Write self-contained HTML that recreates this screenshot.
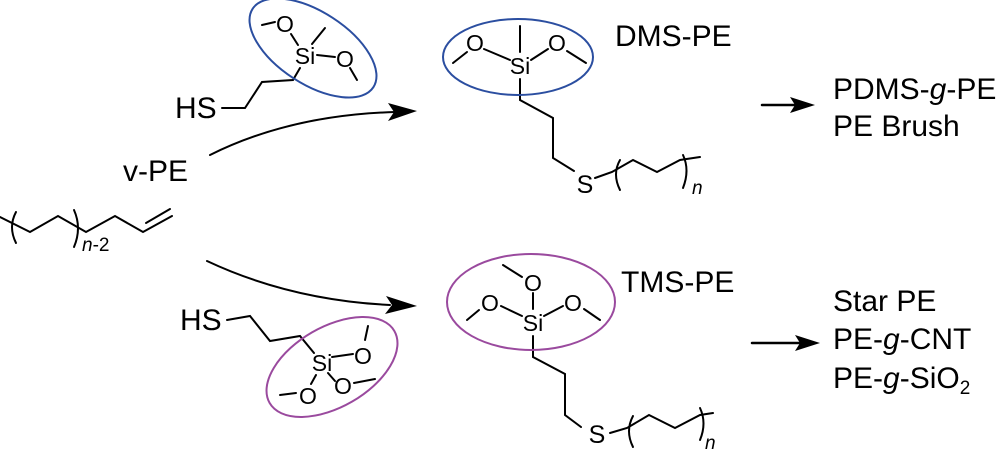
<!DOCTYPE html>
<html><head><style>
html,body{margin:0;padding:0;background:#fff;}
svg{display:block;}
text{font-family:"Liberation Sans",Arial,sans-serif;fill:#000;}
</style></head><body>
<svg width="1000" height="451" viewBox="0 0 1000 451" xmlns="http://www.w3.org/2000/svg">
<g stroke="#000" stroke-width="2" fill="none" stroke-linecap="round">
<polyline points="0,217 30,232 58,216 86,232 115,216 143,232 172,216"/>
<line x1="146" y1="223" x2="170" y2="209"/>
<path d="M16,212 Q8,227 16,243"/>
<path d="M74,210 Q82,228 74,247"/>
<polyline points="222,108 245,108 262,82 293,80 300,68"/>
<line x1="262" y1="25" x2="275" y2="22"/>
<line x1="291" y1="34" x2="298" y2="45"/>
<line x1="317" y1="55" x2="335" y2="57"/>
<line x1="350" y1="68" x2="357" y2="80"/>
<line x1="312" y1="44" x2="325" y2="28"/>
<path d="M210,155 Q290,115 395,112"/>
<line x1="520" y1="26" x2="520" y2="52"/>
<line x1="484" y1="49" x2="510" y2="60"/>
<line x1="531" y1="60" x2="548" y2="49"/>
<line x1="453" y1="63" x2="467" y2="52"/>
<line x1="567" y1="51" x2="586" y2="63"/>
<polyline points="520,79 520,100 553,118 553,158 574,171"/>
<polyline points="595,178 612,172 633,160 657,172 680,160 700,157"/>
<path d="M620,160 Q612,174 620,190"/>
<path d="M683,155 Q690,170 683,188"/>
<polyline points="227,320 250,316 270,341 300,336 314,353"/>
<line x1="332" y1="357" x2="353" y2="354"/>
<line x1="365" y1="340" x2="368" y2="326"/>
<line x1="328" y1="373" x2="335" y2="381"/>
<line x1="354" y1="383" x2="375" y2="379"/>
<line x1="316" y1="375" x2="311" y2="384"/>
<line x1="280" y1="395" x2="296" y2="393"/>
<path d="M207,261 Q290,300 390,305"/>
<line x1="503" y1="265" x2="522" y2="277"/>
<line x1="533" y1="293" x2="533" y2="309"/>
<line x1="501" y1="306" x2="522" y2="316"/>
<line x1="467" y1="320" x2="479" y2="310"/>
<line x1="544" y1="316" x2="563" y2="306"/>
<line x1="584" y1="309" x2="600" y2="320"/>
<polyline points="533,336 533,357 565,374 565,415 581,427"/>
<polyline points="610,433 627,428 649,415 675,428 700,415 713,413"/>
<path d="M633,416 Q625,431 633,447"/>
<path d="M700,408 Q707,423 700,440"/>
<line x1="762" y1="105" x2="795" y2="105" stroke-width="2.5"/>
<line x1="752" y1="343" x2="800" y2="343" stroke-width="2.5"/>
</g>
<g fill="#000">
<polygon points="417,111 388,103 394,112 388,121"/>
<polygon points="417,306 386,296 392,305 385,314"/>
<polygon points="815,105 790,97 795,105 790,113"/>
<polygon points="820,343 795,335 800,343 795,351"/>
</g>
<ellipse cx="313" cy="48" rx="72" ry="36" transform="rotate(33 313 48)" fill="none" stroke="#2b4ea0" stroke-width="2"/>
<ellipse cx="518" cy="57" rx="75" ry="38" fill="none" stroke="#2b4ea0" stroke-width="2"/>
<ellipse cx="332" cy="367" rx="72" ry="40" transform="rotate(-30 332 367)" fill="none" stroke="#9a4a9e" stroke-width="2"/>
<ellipse cx="531" cy="302" rx="84" ry="48" fill="none" stroke="#9a4a9e" stroke-width="2"/>
<g font-size="23" text-anchor="middle">
<text x="285" y="32">O</text>
<text x="305" y="64">Si</text>
<text x="345" y="67">O</text>
<text x="475" y="51">O</text>
<text x="520" y="74">Si</text>
<text x="557" y="51">O</text>
<text x="322" y="371">Si</text>
<text x="363" y="364">O</text>
<text x="343" y="394">O</text>
<text x="308" y="404">O</text>
<text x="533" y="291">O</text>
<text x="490" y="311">O</text>
<text x="573" y="311">O</text>
<text x="533" y="331">Si</text>
<text x="585" y="193" font-size="25">S</text>
<text x="597" y="443" font-size="25">S</text>
</g>
<g font-size="30">
<text x="175" y="118">HS</text>
<text x="180" y="330">HS</text>
<text x="123" y="181">v-PE</text>
<text x="615" y="46">DMS-PE</text>
<text x="621" y="292">TMS-PE</text>
<text x="833" y="99">PDMS-<tspan font-style="italic">g</tspan>-PE</text>
<text x="833" y="136">PE Brush</text>
<text x="833" y="311">Star PE</text>
<text x="833" y="349">PE-<tspan font-style="italic">g</tspan>-CNT</text>
<text x="833" y="388">PE-<tspan font-style="italic">g</tspan>-SiO<tspan font-size="19" dy="6">2</tspan></text>
</g>
<g font-size="19">
<text x="82" y="251"><tspan font-style="italic">n</tspan>-2</text>
<text x="692" y="194" font-style="italic">n</text>
<text x="705" y="449" font-style="italic">n</text>
</g>
</svg>
</body></html>
